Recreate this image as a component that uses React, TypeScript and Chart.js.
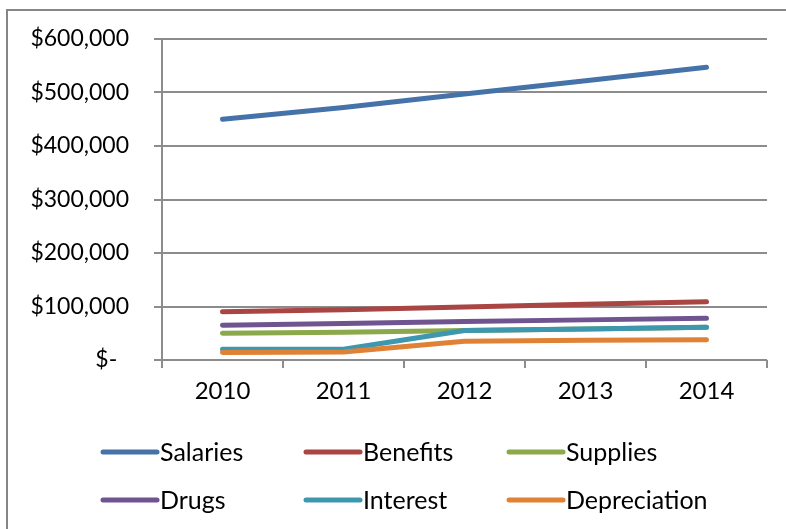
import React, { useEffect, useRef } from "react";
import { Chart, registerables } from "chart.js";

Chart.register(...registerables);

const categories = ["2010", "2011", "2012", "2013", "2014"];
const seriesNames = ["Salaries", "Benefits", "Supplies", "Drugs", "Interest", "Depreciation"];
const salaries = [450000, 472000, 497000, 522000, 547000];
const benefits = [90000, 94000, 99000, 104000, 109000];
const supplies = [50000, 52000, 55000, 58000, 61000];
const drugs = [65000, 68000, 72000, 75000, 78000];
const interest = [20000, 20000, 55000, 58000, 61000];
const depreciation = [14000, 15000, 35000, 37000, 38000];
const colors = ["#4672AA", "#A94543", "#8BA84B", "#6F5490", "#3C97AF", "#E08236"];

const FONT = "Lato, 'Noto Sans', sans-serif";

const legendPlugin = {
  id: "gridLegend",
  afterDraw(chart: any) {
    const ctx = chart.ctx;
    ctx.save();
    chart.data.datasets.forEach((ds: any, i: number) => {
      const col = i % 3;
      const row = Math.floor(i / 3);
      const x = 103 + col * 203;
      const y = 452 + row * 48;
      ctx.strokeStyle = ds.borderColor;
      ctx.lineWidth = 5;
      ctx.lineCap = "round";
      ctx.beginPath();
      ctx.moveTo(x, y);
      ctx.lineTo(x + 54, y);
      ctx.stroke();
      ctx.fillStyle = "#000";
      ctx.font = `25px ${FONT}`;
      ctx.textBaseline = "middle";
      ctx.textAlign = "left";
      ctx.fillText(ds.label, x + 57, y + 1);
    });
    ctx.restore();
  },
};

export default function App() {
  const ref = useRef<HTMLCanvasElement | null>(null);
  useEffect(() => {
    if (!ref.current) return;
    const all = [salaries, benefits, supplies, drugs, interest, depreciation];
    const chart = new Chart(ref.current, {
      type: "line",
      data: {
        labels: categories,
        datasets: all.map((d, i) => ({
          label: seriesNames[i],
          data: d,
          order: all.length - i,
          borderColor: colors[i],
          backgroundColor: colors[i],
          borderWidth: 5,
          borderCapStyle: "round",
          borderJoinStyle: "round",
          pointRadius: 0,
          tension: 0,
          fill: false,
        })),
      },
      options: {
        animation: false,
        responsive: false,
        maintainAspectRatio: false,
        layout: { padding: { left: 0, top: 39, right: 19, bottom: 120 } },
        plugins: { legend: { display: false }, tooltip: { enabled: false } },
        scales: {
          x: {
            offset: true,
            grid: {
              offset: true,
              drawOnChartArea: false,
              drawTicks: true,
              tickLength: 8,
              color: "#8c8c8c",
              lineWidth: 2,
            },
            border: { display: false },
            ticks: { color: "#000", font: { family: FONT, size: 24 }, padding: 9 },
            afterFit: (s: any) => {
              s.height = 49;
            },
          },
          y: {
            min: 0,
            max: 600000,
            ticks: {
              stepSize: 100000,
              color: "#000",
              font: { family: FONT, size: 23 },
              padding: 25,
              callback: (v: any) => (v === 0 ? "$-  " : "$" + Number(v).toLocaleString("en-US")),
            },
            grid: { color: "#8c8c8c", lineWidth: 2, tickLength: 8 },
            border: { display: true, color: "#8c8c8c", width: 2 },
            afterFit: (s: any) => {
              s.width = 162;
            },
          },
        },
      },
      plugins: [legendPlugin],
    });
    return () => chart.destroy();
  }, []);
  return (
    <div style={{ position: "fixed", left: 0, top: 0, width: 786, height: 529, overflow: "hidden", background: "#fff" }}>
      <div
        style={{
          position: "absolute",
          left: 6,
          top: 9,
          width: 900,
          height: 700,
          borderLeft: "2px solid #868686",
          borderTop: "2px solid #868686",
        }}
      />
      <canvas ref={ref} width={786} height={529} style={{ position: "absolute", left: 0, top: 0 }} />
    </div>
  );
}
